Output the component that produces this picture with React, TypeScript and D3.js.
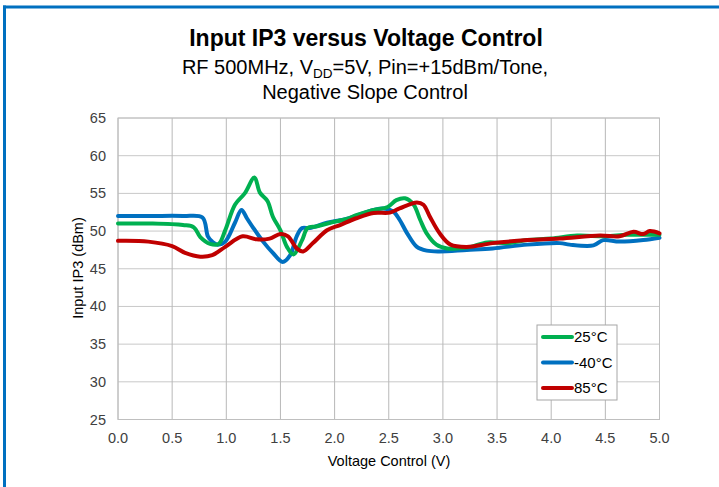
import React from "react";
import * as d3 from "d3";

const seriesNames = ["25°C", "-40°C", "85°C"];
const seriesColors = ["#00b050", "#0070c0", "#c00000"];

const greenV = [0, 0.3, 0.6, 0.7, 0.76, 0.85, 0.93, 0.99, 1.08, 1.17, 1.26, 1.31, 1.38, 1.43, 1.5, 1.56, 1.62, 1.7, 1.75, 1.83, 1.96, 2.11, 2.2, 2.36, 2.49, 2.57, 2.65, 2.73, 2.79, 2.85, 2.94, 3.04, 3.22, 3.41, 3.6, 3.78, 4.0, 4.24, 4.5, 4.7, 5.0];
const greenDb = [51, 51, 50.8, 50.5, 49.2, 48.3, 48.3, 50.1, 53.5, 55.0, 57.1, 55.1, 54, 51.9, 50.1, 47.9, 46.9, 48.8, 50.4, 50.6, 51.1, 51.6, 52.1, 52.8, 53.2, 54.1, 54.35, 53.5, 51.5, 49.7, 48.2, 47.7, 47.8, 48.5, 48.4, 48.8, 49, 49.4, 49.3, 49.5, 49.5];

const blueV = [0, 0.3, 0.6, 0.78, 0.83, 0.87, 0.92, 0.99, 1.08, 1.14, 1.19, 1.25, 1.34, 1.43, 1.52, 1.59, 1.65, 1.7, 1.77, 1.93, 2.11, 2.36, 2.45, 2.54, 2.6, 2.67, 2.76, 2.85, 2.97, 3.22, 3.46, 3.78, 4.08, 4.17, 4.39, 4.48, 4.63, 4.85, 5.0];
const blueDb = [52, 52, 52, 51.8, 49.3, 48.6, 48.2, 48.6, 51.1, 52.8, 51.7, 50.4, 48.6, 47.1, 45.9, 46.8, 49.3, 50.4, 50.4, 51.1, 51.6, 52.8, 53.0, 52.6, 51.5, 49.7, 47.9, 47.4, 47.3, 47.5, 47.7, 48.2, 48.4, 48.2, 48.1, 48.8, 48.6, 48.8, 49.1];

const redV = [0, 0.28, 0.5, 0.62, 0.76, 0.87, 0.99, 1.15, 1.28, 1.4, 1.5, 1.57, 1.65, 1.71, 1.8, 1.93, 2.05, 2.2, 2.36, 2.51, 2.6, 2.76, 2.82, 2.88, 2.97, 3.07, 3.22, 3.46, 3.78, 4.08, 4.45, 4.63, 4.76, 4.85, 4.91, 5.0];
const redDb = [48.7, 48.6, 48.0, 47.1, 46.6, 46.8, 47.9, 49.3, 48.9, 49.0, 49.6, 49.3, 47.7, 47.3, 48.4, 50.1, 50.8, 51.7, 52.4, 52.45, 53.0, 53.8, 53.5, 51.9, 49.7, 48.2, 47.9, 48.4, 48.8, 49.0, 49.4, 49.3, 49.9, 49.6, 50.0, 49.7];

const xTicks = [0, 0.5, 1, 1.5, 2, 2.5, 3, 3.5, 4, 4.5, 5];
const yTicks = [25, 30, 35, 40, 45, 50, 55, 60, 65];

const W = 719;
const H = 487;
const plot = { left: 118, right: 659.5, top: 118, bottom: 419.5 };
const font = "'Liberation Sans', Arial, sans-serif";

export default function App() {
  const x = d3.scaleLinear().domain([0, 5]).range([plot.left, plot.right]);
  const y = d3.scaleLinear().domain([25, 65]).range([plot.bottom, plot.top]);
  const line = d3
    .line<[number, number]>()
    .x((d) => x(d[0]))
    .y((d) => y(d[1]))
    .curve(d3.curveCatmullRom.alpha(0.5));

  const series = [
    { v: greenV, d: greenDb },
    { v: blueV, d: blueDb },
    { v: redV, d: redDb },
  ];
  const drawOrder = [1, 0, 2];

  const legend = { x: 537, y: 325, w: 80, h: 75 };

  return (
    <svg
      width={W}
      height={H}
      style={{ position: "absolute", left: 0, top: 0, background: "#fff" }}
      fontFamily={font}
    >
      <rect x={0} y={0} width={W} height={H} fill="#fff" />
      <line x1={3} x2={W} y1={7} y2={7} stroke="#0070c0" strokeWidth={3} />
      <line x1={4.5} x2={4.5} y1={5.5} y2={H} stroke="#0070c0" strokeWidth={3} />

      <text x={366} y={46} textAnchor="middle" fontSize={23} fontWeight="bold" fill="#000">
        Input IP3 versus Voltage Control
      </text>
      <text x={365} y={74} textAnchor="middle" fontSize={20} fill="#000">
        RF 500MHz, V
        <tspan fontSize={13.5} dy={3.5}>DD</tspan>
        <tspan dy={-3.5}>=5V, Pin=+15dBm/Tone,</tspan>
      </text>
      <text x={365} y={98.5} textAnchor="middle" fontSize={20} fill="#000">
        Negative Slope Control
      </text>

      {yTicks.map((t) => (
        <line key={"gy" + t} x1={plot.left} x2={plot.right} y1={y(t)} y2={y(t)} stroke="#c8c8c8" strokeWidth={1} />
      ))}
      {xTicks.map((t) => (
        <line key={"gx" + t} x1={x(t)} x2={x(t)} y1={plot.top} y2={plot.bottom} stroke="#b8b8b8" strokeWidth={1} />
      ))}
      <rect x={plot.left} y={plot.top} width={plot.right - plot.left} height={plot.bottom - plot.top} fill="none" stroke="#bfbfbf" strokeWidth={1} />

      {yTicks.map((t) => (
        <text key={"ty" + t} x={106} y={y(t) + 5} textAnchor="end" fontSize={14.5} fill="#404040">
          {t}
        </text>
      ))}
      {xTicks.map((t) => (
        <text key={"tx" + t} x={x(t)} y={443} textAnchor="middle" fontSize={14.5} fill="#404040">
          {t.toFixed(1)}
        </text>
      ))}
      <text x={389} y={466} textAnchor="middle" fontSize={14.5} fill="#000">
        Voltage Control (V)
      </text>
      <text transform={`translate(83,268) rotate(-90)`} textAnchor="middle" fontSize={14.5} fill="#000">
        Input IP3 (dBm)
      </text>

      {drawOrder.map((i) => {
        const s = series[i];
        const pts: [number, number][] = s.v.map((v, k) => [v, s.d[k]]);
        return (
          <path key={"s" + i} d={line(pts) || ""} fill="none" stroke={seriesColors[i]} strokeWidth={4} strokeLinejoin="round" strokeLinecap="round" />
        );
      })}

      <rect x={legend.x} y={legend.y} width={legend.w} height={legend.h} fill="#fff" stroke="#a6a6a6" strokeWidth={1} />
      {seriesNames.map((n, i) => {
        const ly = 337 + i * 25.5;
        return (
          <g key={"lg" + i}>
            <line x1={543} x2={572} y1={ly} y2={ly} stroke={seriesColors[i]} strokeWidth={4} strokeLinecap="round" />
            <text x={574} y={ly + 5} fontSize={15} fill="#000">
              {n}
            </text>
          </g>
        );
      })}
    </svg>
  );
}
